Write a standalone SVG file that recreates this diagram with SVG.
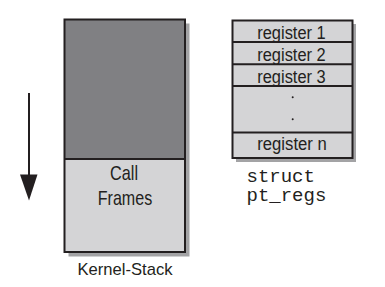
<svg xmlns="http://www.w3.org/2000/svg" width="385" height="287" viewBox="0 0 385 287">
  <defs>
    <style>
      .shadow { fill: #a3a3a5; }
      .dark { fill: #808083; }
      .light { fill: #d4d4d6; }
      .edge { fill: none; stroke: #231f20; stroke-width: 2; }
      .sans { font-family: "Liberation Sans", Arial, sans-serif; fill: #231f20; text-anchor: middle; }
      .mono { font-family: "Liberation Mono", "Courier New", monospace; fill: #231f20; font-size: 19px; }
    </style>
  </defs>

  <!-- growth direction arrow -->
  <g id="connectors">
    <line x1="29" y1="93" x2="29" y2="178" stroke="#231f20" stroke-width="2"/>
    <polygon points="20,174.5 37.5,174.5 29,200.5" fill="#231f20"/>
  </g>

  <!-- kernel stack -->
  <g id="kernel-stack">
    <rect class="shadow" x="68.5" y="23.5" width="121" height="233"/>
    <rect class="dark" x="64.5" y="19.5" width="120.5" height="139.5"/>
    <rect class="light" x="64.5" y="159" width="120.5" height="93"/>
    <rect class="edge" x="64.5" y="19.5" width="120.5" height="232.5"/>
    <line class="edge" x1="64.5" y1="159" x2="185" y2="159"/>
    <text class="sans" x="124" y="180" font-size="21" textLength="28" lengthAdjust="spacingAndGlyphs">Call</text>
    <text class="sans" x="125" y="205" font-size="21" textLength="54.5" lengthAdjust="spacingAndGlyphs">Frames</text>
    <text class="sans" x="125" y="275" font-size="17" textLength="95" lengthAdjust="spacingAndGlyphs">Kernel-Stack</text>
  </g>

  <!-- saved registers -->
  <g id="pt-regs">
    <rect class="shadow" x="236" y="24" width="120" height="138"/>
    <rect class="light" x="232.5" y="20.5" width="120" height="137.5"/>
    <rect class="edge" x="232.5" y="20.5" width="120" height="137.5"/>
    <line class="edge" x1="232.5" y1="42" x2="352.5" y2="42"/>
    <line class="edge" x1="232.5" y1="64.2" x2="352.5" y2="64.2"/>
    <line class="edge" x1="232.5" y1="86" x2="352.5" y2="86"/>
    <line class="edge" x1="232.5" y1="132.5" x2="352.5" y2="132.5"/>
    <text class="sans" x="291.5" y="38.5" font-size="18" textLength="68.5" lengthAdjust="spacingAndGlyphs">register 1</text>
    <text class="sans" x="291.5" y="60.5" font-size="18" textLength="68.5" lengthAdjust="spacingAndGlyphs">register 2</text>
    <text class="sans" x="291.5" y="82.5" font-size="18" textLength="68.5" lengthAdjust="spacingAndGlyphs">register 3</text>
    <circle cx="292.7" cy="97.3" r="1" fill="#231f20"/>
    <circle cx="292.7" cy="119.3" r="1" fill="#231f20"/>
    <text class="sans" x="292" y="150" font-size="18" textLength="69.5" lengthAdjust="spacingAndGlyphs">register n</text>
    <text class="mono" x="246.5" y="182.3">struct</text>
    <text class="mono" x="246.5" y="201">pt_regs</text>
  </g>
</svg>
